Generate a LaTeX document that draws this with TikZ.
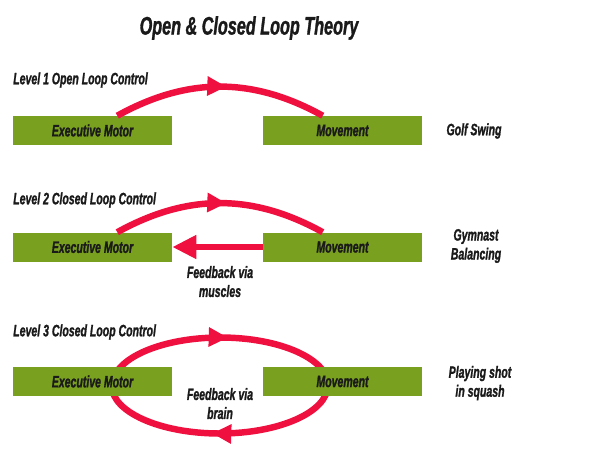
\documentclass[tikz,border=0pt]{standalone}
\usepackage{fontspec}
\setmainfont{Liberation Sans}[FakeStretch=0.64,FakeBold=1.2]
\usepackage{xcolor}
\usepackage{tikz}
\usetikzlibrary{arrows.meta,decorations.markings,backgrounds,calc}

\definecolor{boxgreen}{RGB}{122,160,32}
\definecolor{loopred}{RGB}{240,16,64}
\definecolor{inkgrey}{RGB}{26,26,26}
\newcommand{\labelfont}{\fontsize{11.7}{13.5}\selectfont\bfseries\itshape}
\newcommand{\titlefont}{\fontsize{18}{21}\selectfont\bfseries\itshape}

\begin{document}
\begin{tikzpicture}[
      box/.style={rectangle, fill=boxgreen, minimum width=3.975cm, minimum height=0.725cm,
                  inner sep=0pt, font=\labelfont, text=inkgrey},
      lbl/.style={font=\labelfont, text=inkgrey, align=center, inner sep=0pt},
      arcflow/.style={draw=loopred, line width=4.6pt, postaction={decorate},
                  decoration={markings, mark=at position 0.53 with {\arrow[loopred]{Triangle[length=0.48cm,width=0.46cm]}}}},
      feedback/.style={draw=loopred, line width=4.8pt, -{Triangle[length=0.6cm,width=0.56cm]}},
    ]
    \useasboundingbox (0,0) rectangle (15,-11.65);

    \node[font=\titlefont, text=inkgrey] (title) at (6.225, -0.7) {Open \& Closed Loop Theory};

    % level 1
    \node[lbl, anchor=west] (lev1) at (0.325, -2.0) {Level 1 Open Loop Control};
    \node[box] (exec1) at (2.3125, -3.2625) {Executive Motor};
    \node[box] (move1) at (8.5625, -3.2625) {Movement};
    \node[lbl] (golf)  at (11.85, -3.275) {Golf Swing};

    % level 2
    \node[lbl, anchor=west] (lev2) at (0.325, -5.0) {Level 2 Closed Loop Control};
    \node[box] (exec2) at (2.3125, -6.175) {Executive Motor};
    \node[box] (move2) at (8.5625, -6.175) {Movement};
    \node[lbl] (gym)   at (11.9, -6.15) {Gymnast\\Balancing};
    \node[lbl] (fbmus) at (5.5, -7.04) {Feedback via\\muscles};

    % level 3
    \node[lbl, anchor=west] (lev3) at (0.325, -8.3) {Level 3 Closed Loop Control};
    \node[box] (exec3) at (2.3125, -9.5375) {Executive Motor};
    \node[box] (move3) at (8.5625, -9.5375) {Movement};
    \node[lbl] (squash) at (12.0, -9.575) {Playing shot\\in squash};
    \node[lbl] (fbbrain) at (5.5, -10.09) {Feedback via\\brain};

    \draw[arcflow] ($(exec1.north east)+(-1.375,0)$) to[bend left=29] ($(move1.north west)+(1.5,0)$);
    \draw[arcflow] ($(exec2.north east)+(-1.375,0)$) to[bend left=29] ($(move2.north west)+(1.5,0)$);
    \draw[feedback] (move2.west) -- (exec2.east);

    \begin{scope}[on background layer]
      \coordinate (ringl) at ($(exec3.east)+(-1.5,-0.1)$);
      \coordinate (ringr) at ($(move3.west)+(1.625,-0.1)$);
      \draw[arcflow] (ringl) arc[start angle=180, end angle=0, x radius=2.7cm, y radius=1.2cm];
      \draw[arcflow] (ringr) arc[start angle=0, end angle=-180, x radius=2.7cm, y radius=1.2cm];
    \end{scope}
  \end{tikzpicture}
\end{document}
